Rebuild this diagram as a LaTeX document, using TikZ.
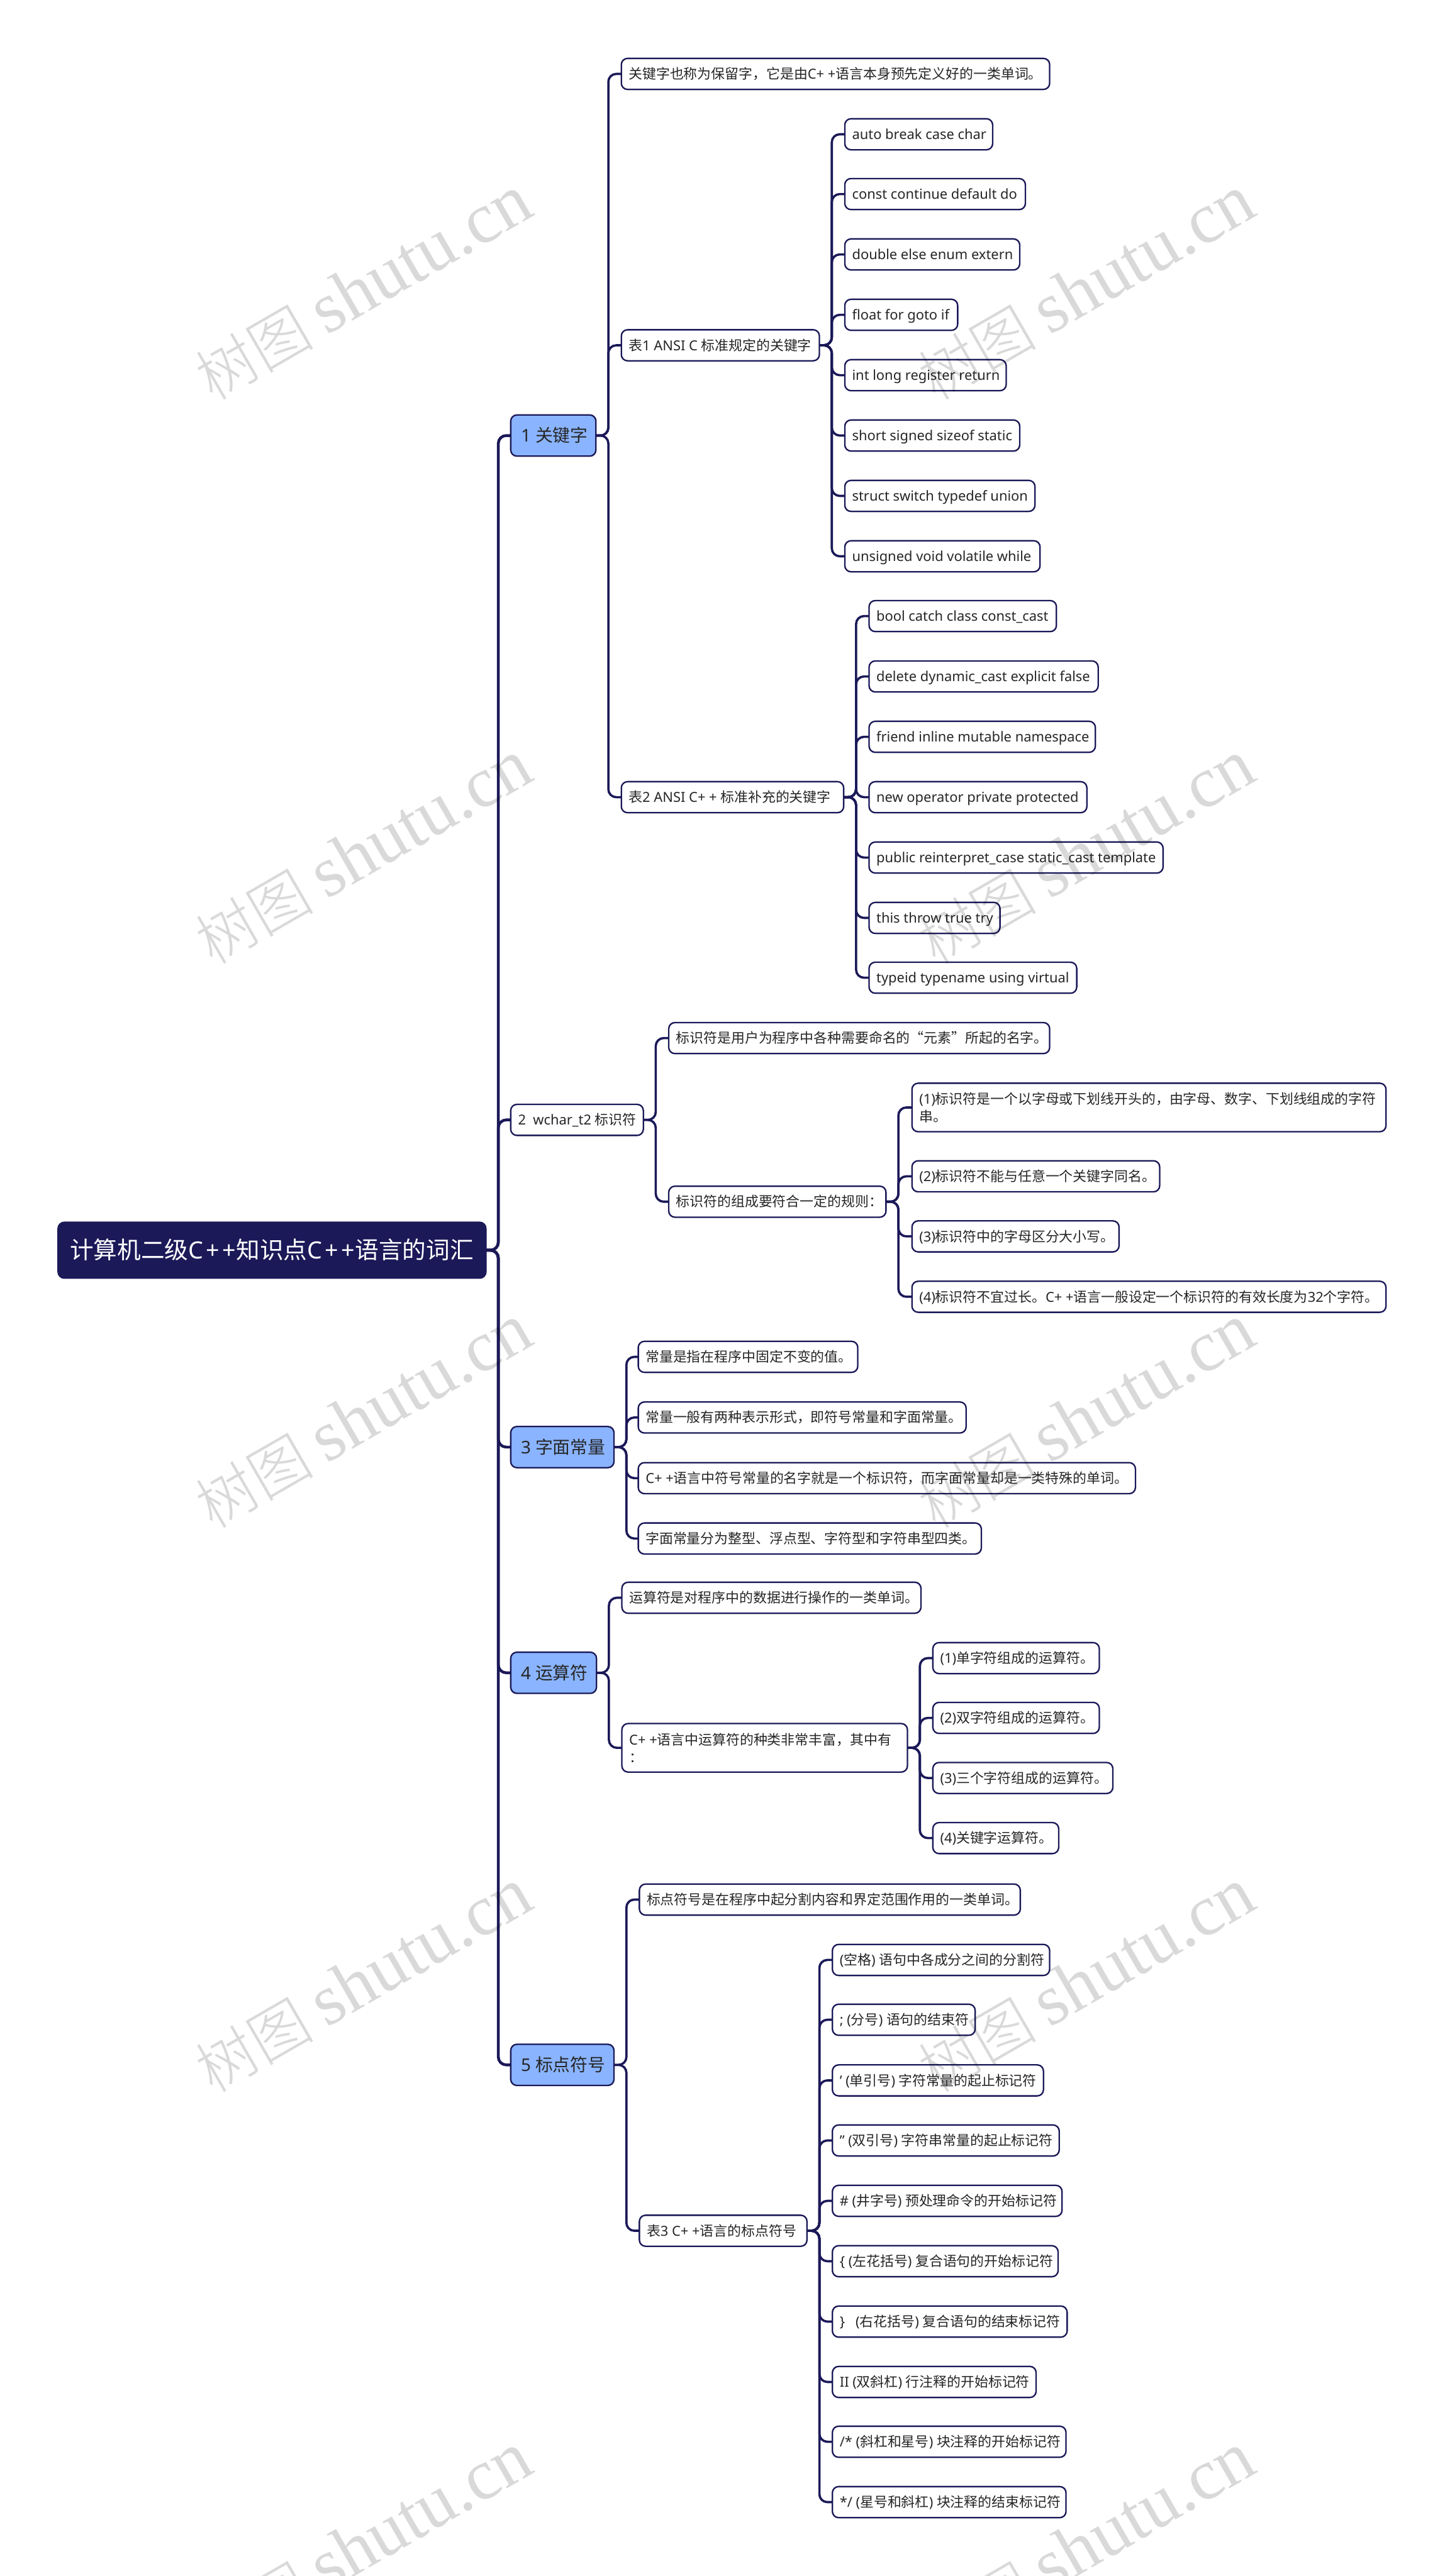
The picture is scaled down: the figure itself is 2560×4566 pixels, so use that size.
\documentclass[tikz,border=0pt]{standalone}
\usepackage{fontspec}
\setmainfont{Noto Sans}
\newfontfamily\cjkf{Noto Sans CJK SC}
\newfontfamily\wmcjk{Noto Sans CJK SC Light}
\newfontfamily\wmlat{Liberation Serif}
% automatic font switch between Latin and CJK runs
\chardef\cjkcl=200
\newcount\cc
\cc="3000 \loop\XeTeXcharclass\cc=\cjkcl \ifnum\cc<"9FFF \advance\cc 1 \repeat
\cc="FF00 \loop\XeTeXcharclass\cc=\cjkcl \ifnum\cc<"FFEF \advance\cc 1 \repeat
\XeTeXcharclass"201C=\cjkcl
\XeTeXcharclass"201D=\cjkcl
\XeTeXinterchartoks 0 \cjkcl={\cjkf}
\XeTeXinterchartoks 4095 \cjkcl={\cjkf}
\XeTeXinterchartoks \cjkcl 0={\rmfamily}
\XeTeXinterchartoks 4095 0={\rmfamily}
\XeTeXinterchartokenstate=1
\definecolor{navy}{HTML}{1B1958}
\definecolor{topicblue}{HTML}{8AB4FF}
\tikzset{
  box/.style={draw=navy,line width=2.6pt,rounded corners=11pt,anchor=west,inner sep=0pt,outer sep=0pt,fill=white,text=black!85},
  leaf/.style={box,minimum height=55pt,font=\fontsize{24.4}{30}\selectfont,text height=21pt,text depth=3pt},
  leaftwo/.style={box,minimum height=86pt,font=\fontsize{24.4}{30}\selectfont},
  topic/.style={box,minimum height=73pt,fill=topicblue,font=\fontsize{31}{36}\selectfont,text height=26.4pt,text depth=3.6pt},
  rootnode/.style={box,minimum height=99pt,fill=navy,text=white,font=\fontsize{42}{48}\selectfont,text height=36pt,text depth=5pt},
  conn/.style={draw=navy,line width=4pt,rounded corners=14pt},
  mainconn/.style={conn,line width=5pt},
  wmark/.style={rotate=30,anchor=base,text=black,text opacity=.15,inner sep=0pt}
}
% \nd[pad]{style}{name}{left}{right}{cy}{text}
\newcommand{\nd}[7][13]{%
  \pgfmathsetlengthmacro\nodewid{(#5-#4)*1pt}%
  \node[#2,minimum width=\nodewid] (#3) at (#4,#6) {\hbox to \nodewid{\hskip #1pt #7\hss}};}
\newcommand{\twoline}[2]{\vbox{\baselineskip=32pt\hbox{#1}\hbox{#2}}}
\newcommand{\link}[3][conn]{\draw[#1] (#2.east) -- ++(22,0) |- (#3.west);}
\begin{document}
\begin{tikzpicture}[x=1pt,y=-1pt]
\useasboundingbox (0,0) rectangle (2560,4566);
\fill[white] (0,0) rectangle (2560,4566);
% root
\nd[21]{rootnode}{root}{103}{861}{2216}{计算机二级C\kern5pt+\kern5pt+知识点C\kern5pt+\kern5pt+语言的词汇}
% level 1
\nd[18]{topic}{a}{905}{1056}{772}{1 关键字}
\nd{leaf}{b}{905}{1140}{1985}{2\ \ wchar\_t2 标识符}
\nd[18]{topic}{c}{905}{1088}{2565}{3 字面常量}
\nd[18]{topic}{d}{905}{1057}{2965}{4 运算符}
\nd[18]{topic}{e}{905}{1088}{3660}{5 标点符号}
% 1
\nd{leaf}{a1}{1101}{1860}{131}{关键字也称为保留字，它是由C+ +语言本身预先定义好的一类单词。}
\nd{leaf}{a2}{1101}{1452}{612}{表1 ANSI C 标准规定的关键字}
\nd{leaf}{a3}{1101}{1495}{1413}{表2 ANSI C+ + 标准补充的关键字}
\nd{leaf}{a2a}{1497}{1759}{238}{auto break case char}
\nd{leaf}{a2b}{1497}{1817}{344}{const continue default do}
\nd{leaf}{a2c}{1497}{1807}{451}{double else enum extern}
\nd{leaf}{a2d}{1497}{1697}{558}{float for goto if}
\nd{leaf}{a2e}{1497}{1783}{665}{int long register return}
\nd{leaf}{a2f}{1497}{1807}{772}{short signed sizeof static}
\nd{leaf}{a2g}{1497}{1834}{879}{struct switch typedef union}
\nd{leaf}{a2h}{1497}{1843}{986}{unsigned void volatile while}
\nd{leaf}{a3a}{1540}{1872}{1092}{bool catch class const\_cast}
\nd{leaf}{a3b}{1540}{1946}{1199}{delete dynamic\_cast explicit false}
\nd{leaf}{a3c}{1540}{1941}{1306}{friend inline mutable namespace}
\nd{leaf}{a3d}{1540}{1926}{1413}{new operator private protected}
\nd{leaf}{a3e}{1540}{2061}{1520}{public reinterpret\_case static\_cast template}
\nd{leaf}{a3f}{1540}{1772}{1627}{this throw true try}
\nd{leaf}{a3g}{1540}{1908}{1733}{typeid typename using virtual}
% 2
\nd{leaf}{b1}{1185}{1860}{1840}{标识符是用户为程序中各种需要命名的“元素”所起的名字。}
\nd{leaf}{b2}{1185}{1570}{2130}{标识符的组成要符合一定的规则：}
\nd{leaftwo}{b2a}{1616}{2456}{1963}{\twoline{(1)标识符是一个以字母或下划线开头的，由字母、数字、下划线组成的字符}{串。}}
\nd{leaf}{b2b}{1616}{2055}{2085}{(2)标识符不能与任意一个关键字同名。}
\nd{leaf}{b2c}{1616}{1983}{2191.5}{(3)标识符中的字母区分大小写。}
\nd{leaf}{b2d}{1616}{2456}{2298.5}{(4)标识符不宜过长。C+ +语言一般设定一个标识符的有效长度为32个字符。}
% 3
\nd{leaf}{c1}{1131}{1520}{2405}{常量是指在程序中固定不变的值。}
\nd{leaf}{c2}{1131}{1712}{2512.5}{常量一般有两种表示形式，即符号常量和字面常量。}
\nd{leaf}{c3}{1131}{2012}{2620}{C+ +语言中符号常量的名字就是一个标识符，而字面常量却是一类特殊的单词。}
\nd{leaf}{c4}{1131}{1739}{2727}{字面常量分为整型、浮点型、字符型和字符串型四类。}
% 4
\nd{leaf}{d1}{1102}{1632}{2832}{运算符是对程序中的数据进行操作的一类单词。}
\nd{leaftwo}{d2}{1102}{1608}{3098}{\twoline{C+ +语言中运算符的种类非常丰富，其中有}{：}}
\nd{leaf}{d2a}{1653}{1948}{2939}{(1)单字符组成的运算符。}
\nd{leaf}{d2b}{1653}{1948}{3045}{(2)双字符组成的运算符。}
\nd{leaf}{d2c}{1653}{1972}{3151.5}{(3)三个字符组成的运算符。}
\nd{leaf}{d2d}{1653}{1876}{3258}{(4)关键字运算符。}
% 5
\nd{leaf}{e1}{1133}{1808}{3367}{标点符号是在程序中起分割内容和界定范围作用的一类单词。}
\nd{leaf}{e2}{1133}{1430}{3954}{表3 C+ +语言的标点符号}
\nd{leaf}{e2a}{1475}{1860}{3474}{(空格) 语句中各成分之间的分割符}
\nd{leaf}{e2b}{1475}{1728}{3580}{; (分号) 语句的结束符}
\nd{leaf}{e2c}{1475}{1849}{3687.5}{' (单引号) 字符常量的起止标记符}
\nd{leaf}{e2d}{1475}{1877}{3794}{" (双引号) 字符串常量的起止标记符}
\nd{leaf}{e2e}{1475}{1882}{3901}{\# (井字号) 预处理命令的开始标记符}
\nd{leaf}{e2f}{1475}{1875}{4008}{\{ (左花括号) 复合语句的开始标记符}
\nd{leaf}{e2g}{1475}{1891}{4115}{\}\ \ \ (右花括号) 复合语句的结束标记符}
\nd{leaf}{e2h}{1475}{1836}{4222}{II (双斜杠) 行注释的开始标记符}
\nd{leaf}{e2i}{1475}{1889}{4328}{/* (斜杠和星号) 块注释的开始标记符}
\nd{leaf}{e2j}{1475}{1889}{4435}{*/ (星号和斜杠) 块注释的结束标记符}
% connectors
\foreach \c in {a,b,c,d,e} {\link[mainconn]{root}{\c}}
\foreach \c in {a1,a2,a3} {\link{a}{\c}}
\foreach \c in {a2a,a2b,a2c,a2d,a2e,a2f,a2g,a2h} {\link{a2}{\c}}
\foreach \c in {a3a,a3b,a3c,a3d,a3e,a3f,a3g} {\link{a3}{\c}}
\foreach \c in {b1,b2} {\link{b}{\c}}
\foreach \c in {b2a,b2b,b2c,b2d} {\link{b2}{\c}}
\foreach \c in {c1,c2,c3,c4} {\link{c}{\c}}
\foreach \c in {d1,d2} {\link{d}{\c}}
\foreach \c in {d2a,d2b,d2c,d2d} {\link{d2}{\c}}
\foreach \c in {e1,e2} {\link{e}{\c}}
\foreach \c in {e2a,e2b,e2c,e2d,e2e,e2f,e2g,e2h,e2i,e2j} {\link{e2}{\c}}
% watermark
\foreach \col in {0,1} \foreach \row in {0,...,4} {
  \node[wmark] (wm\col\row) at (664+1281*\col,546+1000*\row)
    {\XeTeXinterchartokenstate=0 \fontsize{105}{110}\wmcjk 树图 \fontsize{127.5}{130}\wmlat shutu.cn};
}
\end{tikzpicture}
\end{document}
